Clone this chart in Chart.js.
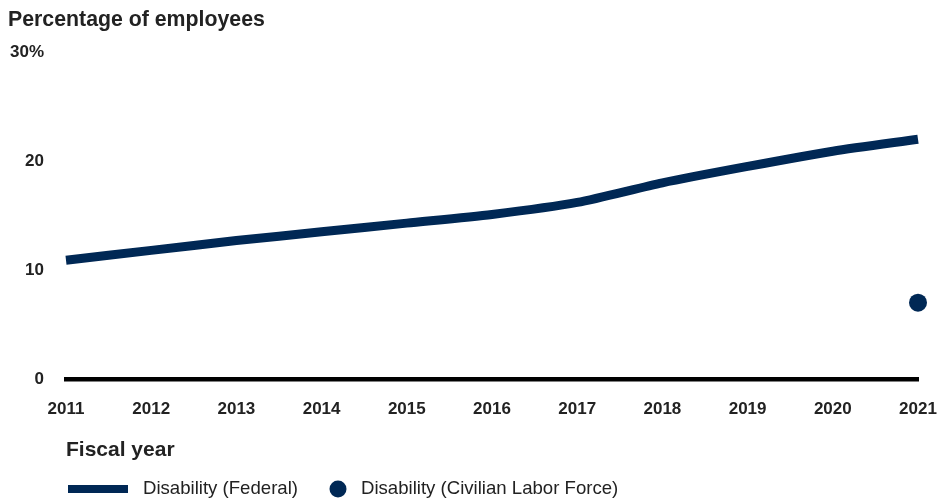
<!DOCTYPE html>
<html>
<head>
<meta charset="utf-8">
<script src="https://cdn.jsdelivr.net/npm/chart.js@4"></script>
<style>
  html, body { margin: 0; padding: 0; background: #fff; }
  #wrap { width: 938px; height: 499px; position: relative; }
</style>
</head>
<body>
<div id="wrap"><canvas id="c" width="938" height="499"></canvas></div>
<script>
const years = ['2011','2012','2013','2014','2015','2016','2017','2018','2019','2020','2021'];
const federal = [10.9, 11.8, 12.7, 13.5, 14.3, 15.1, 16.2, 18.0, 19.5, 20.9, 22.0];
const civilian = [null, null, null, null, null, null, null, null, null, null, 7.0];
const yTicks = [0, 10, 20, 30];
const seriesNames = ['Disability (Federal)', 'Disability (Civilian Labor Force)'];
const chartTitle = 'Percentage of employees';
const xTitle = 'Fiscal year';

const NAVY = '#002855';
const FONT = "'Liberation Sans', Arial, sans-serif";

const textPlugin = {
  id: 'texts',
  afterDraw(chart) {
    const ctx = chart.ctx;
    const ca = chart.chartArea;
    ctx.save();
    ctx.fillStyle = '#222';
    ctx.textBaseline = 'alphabetic';
    ctx.textAlign = 'left';
    ctx.font = 'bold 21.3px ' + FONT;
    ctx.fillText(chartTitle, 8, 26);
    ctx.font = 'bold 21px ' + FONT;
    ctx.fillText(xTitle, ca.left, 456);
    // legend
    ctx.font = '18.6px ' + FONT;
    ctx.textBaseline = 'middle';
    ctx.fillStyle = NAVY;
    ctx.fillRect(68, 485, 60, 8);
    ctx.fillStyle = '#222';
    ctx.fillText(seriesNames[0], 143, 489);
    ctx.fillStyle = NAVY;
    ctx.beginPath();
    ctx.arc(338, 489, 8.5, 0, Math.PI * 2);
    ctx.fill();
    ctx.fillStyle = '#222';
    ctx.fillText(seriesNames[1], 361, 489);
    ctx.restore();
  }
};

new Chart(document.getElementById('c'), {
  type: 'line',
  data: {
    labels: years,
    datasets: [
      {
        label: seriesNames[0],
        data: federal,
        borderColor: NAVY,
        backgroundColor: NAVY,
        borderWidth: 9,
        tension: 0.25,
        pointRadius: 0,
        borderCapStyle: 'butt',
        fill: false
      },
      {
        label: seriesNames[1],
        data: civilian,
        showLine: false,
        borderColor: NAVY,
        backgroundColor: NAVY,
        pointRadius: 9,
        pointBorderWidth: 0,
        pointHoverRadius: 9
      }
    ]
  },
  options: {
    responsive: false,
    animation: false,
    devicePixelRatio: 1,
    layout: { padding: { top: 52, right: 20, bottom: 0, left: 0 } },
    plugins: {
      legend: { display: false },
      title: { display: false },
      tooltip: { enabled: false }
    },
    scales: {
      x: {
        offset: false,
        grid: { display: false, drawTicks: false },
        border: { display: true, color: '#000', width: 4.5 },
        ticks: {
          color: '#222',
          font: { family: FONT, size: 17, weight: 'bold' },
          padding: 20,
          maxRotation: 0,
          autoSkip: false
        },
        afterFit(scale) { scale.height = 120; scale.paddingRight = 0; scale.paddingLeft = 0; }
      },
      y: {
        min: 0,
        max: 30,
        grid: { display: false, drawTicks: false },
        border: { display: false },
        afterBuildTicks(scale) { scale.ticks = yTicks.map(v => ({ value: v })); },
        ticks: {
          color: '#222',
          font: { family: FONT, size: 17, weight: 'bold' },
          padding: 22,
          callback: (v) => v === 30 ? '30%' : String(v)
        },
        afterFit(scale) { scale.width = 66; }
      }
    }
  },
  plugins: [textPlugin]
});
</script>
</body>
</html>
